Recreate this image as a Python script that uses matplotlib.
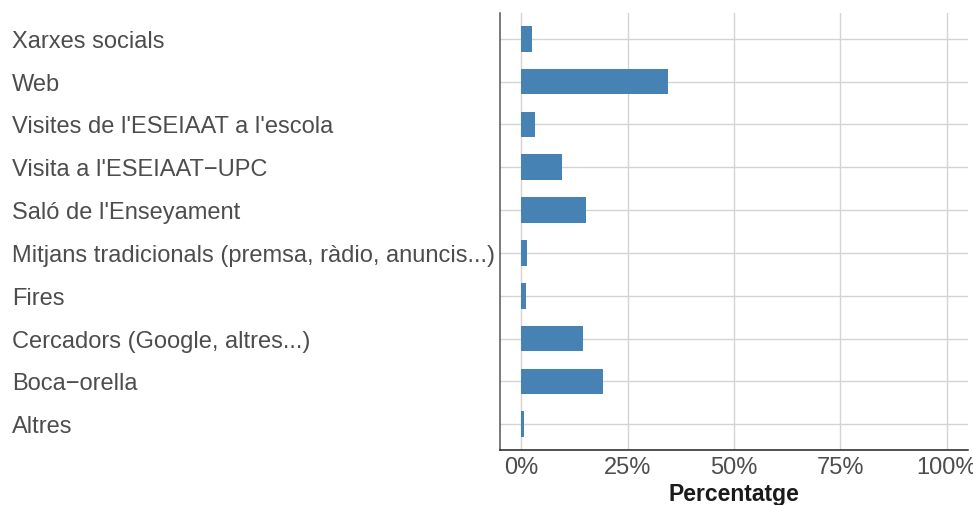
import matplotlib
matplotlib.use('Agg')
from matplotlib import pyplot as plt
from matplotlib import transforms

plt.rcParams['font.family'] = ['Liberation Sans', 'DejaVu Sans']

# dades (de baix a dalt)
categories = ['Altres', 'Boca\u2212orella', 'Cercadors (Google, altres...)', 'Fires',
              'Mitjans tradicionals (premsa, ràdio, anuncis...)', "Saló de l'Enseyament",
              "Visita a l'ESEIAAT\u2212UPC", "Visites de l'ESEIAAT a l'escola", 'Web',
              'Xarxes socials']
percent = [0.7, 19.1, 14.4, 1.0, 1.4, 15.3, 9.6, 3.3, 34.4, 2.6]
x_ticks = [0, 25, 50, 75, 100]
x_tick_labels = ['0%', '25%', '50%', '75%', '100%']
x_label = 'Percentatge'

W, H = 973, 506
fig = plt.figure(figsize=(W / 100, H / 100), dpi=100)
ax = fig.add_axes([500 / W, 1 - 451 / H, 468 / W, 437 / H])

ypos = list(range(1, len(categories) + 1))
ax.barh(ypos, percent, height=0.6, color='#4682B4', zorder=3)

ax.set_xlim(-5, 105)
ax.set_ylim(0.4, len(categories) + 0.6)
ax.set_xticks(x_ticks)
ax.set_xticklabels(x_tick_labels)
ax.set_yticks(ypos)
ax.set_yticklabels([])
ax.grid(True, color='#d4d4d4', linewidth=1.0, zorder=0)
ax.set_axisbelow(True)

ax.tick_params(axis='both', length=0)
ax.tick_params(axis='x', labelsize=17, labelcolor='#4D4D4D', pad=4.5)
ax.set_xlabel(x_label, fontsize=16.5, fontweight='bold', color='#1a1a1a', labelpad=2.5)

for side in ['top', 'right']:
    ax.spines[side].set_visible(False)
ax.spines['left'].set_color('#555555')
ax.spines['bottom'].set_color('#222222')
ax.spines['left'].set_linewidth(1.1)
ax.spines['bottom'].set_linewidth(1.1)

# etiquetes de categoria alineades a l'esquerra
trans = transforms.blended_transform_factory(fig.transFigure, ax.transData)
trans = trans + transforms.ScaledTranslation(0, -2 / 100, fig.dpi_scale_trans)
for y, name in zip(ypos, categories):
    ax.text(12 / W, y, name, transform=trans, ha='left', va='center',
            fontsize=17, color='#4D4D4D', clip_on=False)

fig.savefig('out.png', dpi=100)
